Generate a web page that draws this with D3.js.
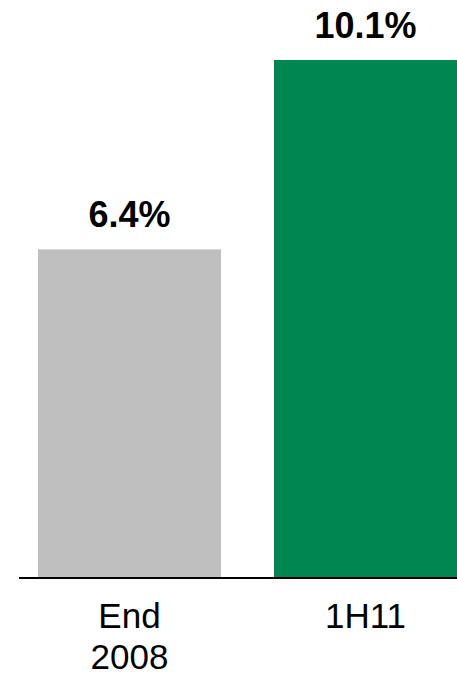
<!DOCTYPE html>
<html>
<head>
<meta charset="utf-8">
<script src="https://cdn.jsdelivr.net/npm/d3@7"></script>
<style>
  html, body { margin: 0; padding: 0; background: #fff; }
  svg { display: block; font-family: "Liberation Sans", Arial, sans-serif; }
</style>
</head>
<body>
<svg id="chart" width="457" height="677"></svg>
<script>
const categories = ["End 2008", "1H11"];
const categoryLines = [["End", "2008"], ["1H11"]];
const values = [6.4, 10.1];
const valueLabels = ["6.4%", "10.1%"];
const colors = ["#BFBFBF", "#008751"];

const svg = d3.select("#chart");
const baseY = 577;

const x = d3.scaleBand()
  .domain(categories)
  .range([38, 457])
  .paddingInner(53 / 236)
  .paddingOuter(0);

const y = d3.scaleLinear()
  .domain([0, 10.1])
  .range([baseY, 60]);

svg.selectAll("rect.bar")
  .data(values)
  .join("rect")
  .attr("class", "bar")
  .attr("x", (d, i) => x(categories[i]))
  .attr("y", d => y(d))
  .attr("width", x.bandwidth())
  .attr("height", d => baseY - y(d))
  .attr("fill", (d, i) => colors[i]);

svg.selectAll("text.val")
  .data(values)
  .join("text")
  .attr("class", "val")
  .attr("x", (d, i) => x(categories[i]) + x.bandwidth() / 2)
  .attr("y", d => y(d) - 22.5)
  .attr("text-anchor", "middle")
  .attr("font-size", 36)
  .attr("font-weight", "bold")
  .attr("fill", "#000")
  .text((d, i) => valueLabels[i]);

svg.append("line")
  .attr("x1", 19).attr("x2", 457)
  .attr("y1", 578).attr("y2", 578)
  .attr("stroke", "#000")
  .attr("stroke-width", 2);

const cat = svg.selectAll("text.cat")
  .data(categories)
  .join("text")
  .attr("class", "cat")
  .attr("text-anchor", "middle")
  .attr("font-size", 35)
  .attr("fill", "#000")
  .attr("y", 628);

cat.each(function (d, i) {
  const t = d3.select(this);
  const cx = x(d) + x.bandwidth() / 2;
  categoryLines[i].forEach((line, j) => {
    t.append("tspan")
      .attr("x", cx)
      .attr("dy", j === 0 ? 0 : 41)
      .text(line);
  });
});
</script>
</body>
</html>
